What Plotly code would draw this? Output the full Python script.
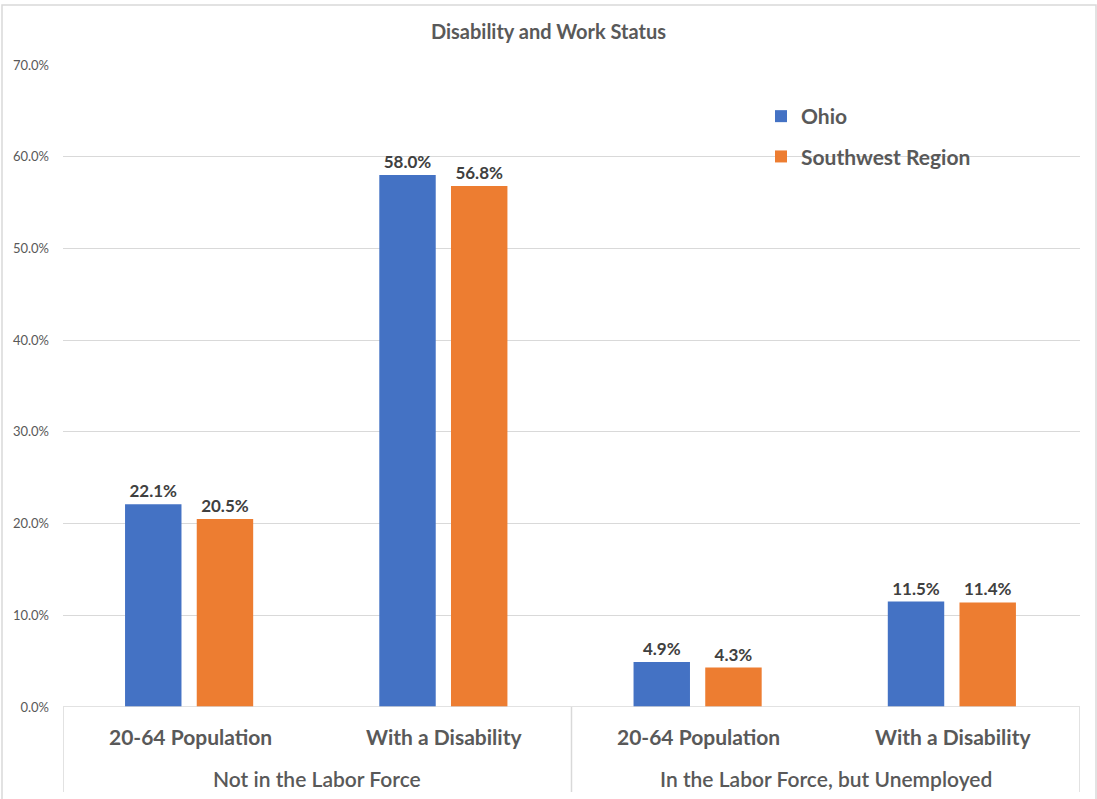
import plotly.graph_objects as go

groups = ["Not in the Labor Force", "In the Labor Force, but Unemployed"]
subcats = ["20-64 Population", "With a Disability", "20-64 Population", "With a Disability"]
ohio = [22.1, 58.0, 4.9, 11.5]
southwest = [20.5, 56.8, 4.3, 11.4]
series_names = ["Ohio", "Southwest Region"]
colors = ["#4472C4", "#ED7D31"]
yticks = [0, 10, 20, 30, 40, 50, 60, 70]

FONT = "Lato"
TXT = "#595959"
GRID = "#D9D9D9"

W, H = 1097, 799
L, R, T, B = 63, 17, 65, 92
PW, PH = W - L - R, H - T - B

xs = list(range(len(subcats)))
fig = go.Figure()
for name, vals, col, off, grp in [
    (series_names[0], ohio, colors[0], -0.145, "a"),
    (series_names[1], southwest, colors[1], 0.137, "b"),
]:
    fig.add_trace(go.Bar(
        x=xs, y=vals, name=name, legendgroup=grp,
        marker=dict(color=col, line=dict(width=0)),
        width=0.222, offset=off - 0.111,
        text=[f"{v:.1f}%" for v in vals],
        textposition="outside",
        textfont=dict(family=FONT, size=17, color="#404040", weight="bold"),
        cliponaxis=False,
    ))

fig.update_layout(
    width=W, height=H,
    margin=dict(l=L, r=R, t=T, b=B),
    paper_bgcolor="white", plot_bgcolor="white",
    title=dict(text="<b>Disability and Work Status</b>", x=0.5, xanchor="center",
               y=1 - 32 / H, yanchor="middle",
               font=dict(family=FONT, size=20, color=TXT)),
    showlegend=True,
    legend=dict(x=(761 - L) / PW, y=(707 - 96) / PH,
                xanchor="left", yanchor="top",
                font=dict(family=FONT, size=21, color=TXT, weight="bold"),
                traceorder="grouped", tracegroupgap=10,
                bgcolor="rgba(0,0,0,0)", itemwidth=30),
    xaxis=dict(range=[-0.5, 3.5], showticklabels=False, showgrid=False,
               zeroline=False, showline=False, fixedrange=True),
    yaxis=dict(range=[0, 70], tickvals=yticks, ticktext=[f"{v:.1f}%" for v in yticks],
               showgrid=True, gridcolor=GRID, gridwidth=1, zeroline=False,
               showline=False, ticks="", ticklabelstandoff=13,
               tickfont=dict(family=FONT, size=13, color=TXT)),
    bargap=0.5,
)

shapes = []
# outer border
shapes.append(dict(type="rect", xref="paper", yref="paper",
                   x0=(2 - L) / PW, x1=(1096 - L) / PW,
                   y0=-(805 - 707) / PH, y1=1 + (T - 5) / PH,
                   line=dict(color=GRID, width=1.5), fillcolor="rgba(0,0,0,0)", layer="below"))
# axis line at 0
shapes.append(dict(type="line", xref="x", yref="y", x0=-0.5, x1=3.5, y0=0, y1=0,
                   line=dict(color=GRID, width=1.5)))
# group dividers
for xv in [-0.5, 1.5, 3.5]:
    shapes.append(dict(type="line", xref="x", yref="paper", x0=xv, x1=xv,
                       y0=0, y1=-(792 - 707) / PH,
                       line=dict(color=GRID, width=1.5)))
fig.update_layout(shapes=shapes)

ann = []
for i, s in enumerate(subcats):
    ann.append(dict(x=i, y=-(736 - 707) / PH, xref="x", yref="paper",
                    text=f"<b>{s}</b>", showarrow=False, yanchor="middle",
                    font=dict(family=FONT, size=21, color=TXT)))
for gi, g in enumerate(groups):
    ann.append(dict(x=0.5 + 2 * gi, y=-(778 - 707) / PH, xref="x", yref="paper",
                    text=g, showarrow=False, yanchor="middle",
                    font=dict(family=FONT, size=21, color=TXT, weight=600)))
fig.update_layout(annotations=ann)

fig.write_html("out.html", config={"displayModeBar": False},
               post_script="document.body.style.margin='0';document.body.style.overflow='hidden';")
